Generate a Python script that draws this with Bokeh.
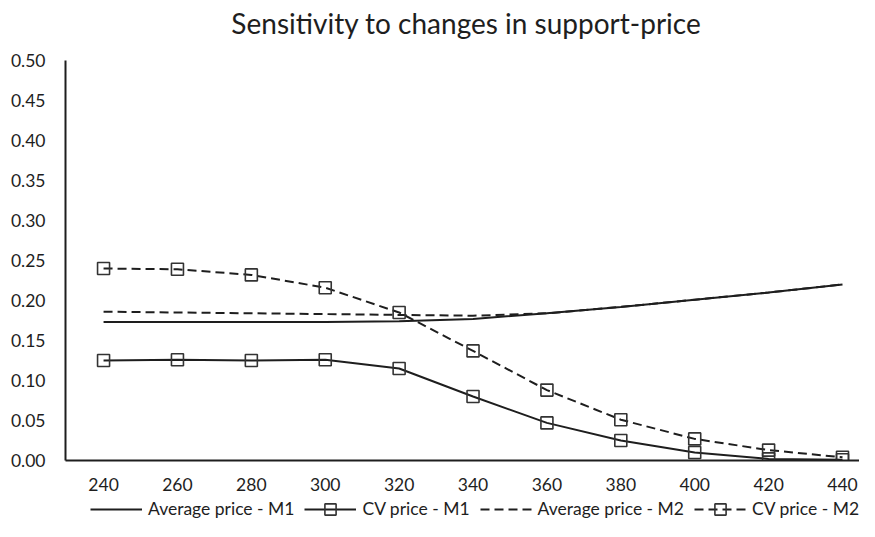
from bokeh.plotting import figure
from bokeh.layouts import column
from bokeh.models import FixedTicker, PrintfTickFormatter, Range1d, Legend, LegendItem, Label
from bokeh.embed import file_html
from bokeh.resources import INLINE

support_price = [240, 260, 280, 300, 320, 340, 360, 380, 400, 420, 440]
avg_m1 = [0.173, 0.173, 0.173, 0.173, 0.174, 0.177, 0.184, 0.192, 0.201, 0.210, 0.220]
cv_m1 = [0.125, 0.126, 0.125, 0.126, 0.115, 0.080, 0.047, 0.025, 0.010, 0.002, 0.001]
avg_m2 = [0.186, 0.185, 0.184, 0.183, 0.182, 0.181, 0.184, 0.192, 0.201, 0.210, 0.220]
cv_m2 = [0.240, 0.239, 0.232, 0.216, 0.185, 0.137, 0.088, 0.051, 0.027, 0.013, 0.004]
y_ticks = [0.0, 0.05, 0.10, 0.15, 0.20, 0.25, 0.30, 0.35, 0.40, 0.45, 0.50]
series_labels = ["Average price - M1", "CV price - M1", "Average price - M2", "CV price - M2"]
chart_title = "Sensitivity to changes in support-price"

FONT = "Lato"
INK = "#1e1e1e"
DASH = "9 5"
W = 859


def strip(h):
    f = figure(width=W, height=h, output_backend="svg", toolbar_location=None, title=None,
               x_range=Range1d(229.7, 444.6), y_range=Range1d(0, h),
               x_axis_location=None, y_axis_location=None,
               min_border_left=0, min_border_right=0, min_border_top=0, min_border_bottom=0)
    f.outline_line_color = None
    f.grid.grid_line_color = None
    return f


# title strip
ts = strip(44)
ts.add_layout(Label(x=338.2, y=22, text=chart_title, text_font=FONT, text_font_size="28px",
                    text_color=INK, text_align="center", text_baseline="middle"))

# main chart
p = figure(width=W, height=452, output_backend="svg", toolbar_location=None, title=None,
           x_range=Range1d(229.7, 444.6), y_range=Range1d(0, 0.5),
           min_border_left=65, min_border_top=16, min_border_right=0, min_border_bottom=36)
p.outline_line_color = None
p.grid.grid_line_color = None

for ax in (p.xaxis[0], p.yaxis[0]):
    ax.axis_line_color = INK
    ax.axis_line_width = 2
    ax.major_tick_line_color = None
    ax.minor_tick_line_color = None
    ax.major_label_text_font = FONT
    ax.major_label_text_font_size = "17.5px"
    ax.major_label_text_color = INK
p.xaxis.ticker = FixedTicker(ticks=support_price)
p.yaxis.ticker = FixedTicker(ticks=y_ticks)
p.yaxis.formatter = PrintfTickFormatter(format="%.2f")
p.yaxis.major_label_standoff = 14
p.xaxis.major_label_standoff = 11

p.line(support_price, avg_m1, line_color=INK, line_width=2)
p.line(support_price, cv_m1, line_color=INK, line_width=2)
p.scatter(support_price, cv_m1, marker="square", size=12, fill_color=None,
          line_color="#333333", line_width=1.6)
p.line(support_price, avg_m2, line_color=INK, line_width=2, line_dash=DASH)
p.line(support_price, cv_m2, line_color=INK, line_width=2, line_dash=DASH)
p.scatter(support_price, cv_m2, marker="square", size=12, fill_color=None,
          line_color="#333333", line_width=1.6)

# legend strip below the chart
lg = strip(25)
off = [-100, -99]
g1 = lg.line(off, off, line_color=INK, line_width=2)
g2 = lg.line(off, off, line_color=INK, line_width=2)
g2m = lg.scatter(off, off, marker="square", size=12, fill_color=None, line_color="#333333", line_width=1.6)
g3 = lg.line(off, off, line_color=INK, line_width=2, line_dash=DASH)
g4 = lg.line(off, off, line_color=INK, line_width=2, line_dash=DASH)
g4m = lg.scatter(off, off, marker="square", size=12, fill_color=None, line_color="#333333", line_width=1.6)

legend = Legend(items=[
    LegendItem(label=series_labels[0], renderers=[g1]),
    LegendItem(label=series_labels[1], renderers=[g2, g2m]),
    LegendItem(label=series_labels[2], renderers=[g3]),
    LegendItem(label=series_labels[3], renderers=[g4, g4m]),
], orientation="horizontal", location=(25, -1.5))
legend.label_text_font = FONT
legend.label_text_font_size = "17.5px"
legend.label_text_color = INK
legend.glyph_width = 52
legend.glyph_height = 28
legend.label_standoff = 6
legend.spacing = 10
legend.border_line_color = None
legend.background_fill_alpha = 0
legend.margin = 0
legend.padding = 0
lg.add_layout(legend, "center")

layout = column(ts, p, lg, spacing=0)
open("out.html", "w").write(file_html(layout, INLINE))
